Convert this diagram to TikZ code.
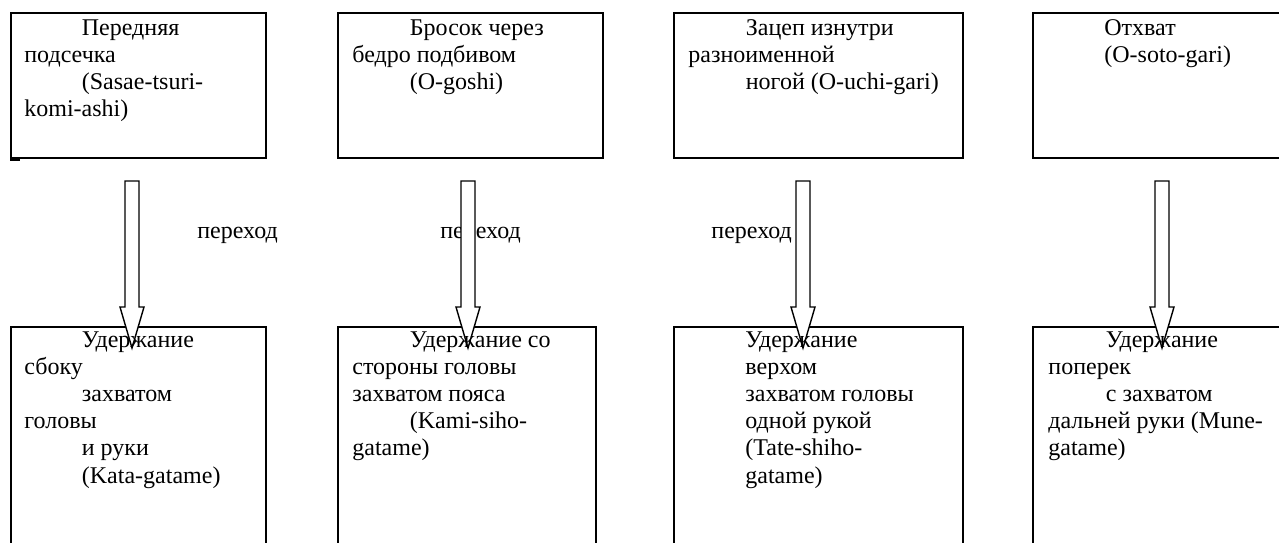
\documentclass[tikz,border=0pt]{standalone}
\usepackage{fontspec}
\setmainfont{Liberation Serif}
\usetikzlibrary{arrows.meta}
\tikzset{frame/.style = {draw, line width=1pt, inner sep=0pt, anchor=north west},
         txt/.style = {inner sep=0pt, anchor=base west,
                       font=\fontsize{12pt}{13.6pt}\selectfont},
         holarrow/.style = {draw, fill=white, line width=0.7pt, line join=miter}}
\newcommand{\ind}{\hspace*{28.75pt}}
\newcommand{\lines}[1]{\begin{tabular}[t]{@{}l@{}}#1\end{tabular}}
% hollow block arrow from #1 (top of shaft) to #2 (tip)
\newcommand{\holarrow}[2]{%
  \draw[holarrow] (#1) ++(-7,0) -- ++(0,126) -- ++(-5,0) -- (#2)
        -- ++(12,-41) -- ++(-5,0) -- ++(0,-126) -- cycle;}

\begin{document}
\begin{tikzpicture}[x=0.5pt, y=-0.5pt]
    \clip (0,0) rectangle (1279,542);
    % throws
    \node[frame, minimum width=127.5pt, minimum height=72.5pt] (t1) at (10,12) {};
    \node[frame, minimum width=132.5pt, minimum height=72.5pt] (t2) at (337,12) {};
    \node[frame, minimum width=144.5pt, minimum height=72.5pt] (t3) at (673,12) {};
    \node[frame, minimum width=134pt, minimum height=72.5pt] (t4) at (1032,12) {};
    \draw[line width=1pt] (t1.south west) ++(0,1) -- ++(10,0);
    % holds
    \node[frame, minimum width=127.5pt, minimum height=117pt] (b1) at (10,326) {};
    \node[frame, minimum width=129pt, minimum height=117pt] (b2) at (337,326) {};
    \node[frame, minimum width=144.5pt, minimum height=117pt] (b3) at (673,326) {};
    \node[frame, minimum width=134pt, minimum height=117pt] (b4) at (1032,326) {};

    \node[txt] (l1) at (197,238) {переход};
    \node[txt] (l2) at (440,238) {переход};
    \node[txt] (l3) at (711,238) {переход};

    \coordinate (s1) at (132,181); \coordinate (e1) at (132,348);
    \coordinate (s2) at (468,181); \coordinate (e2) at (468,348);
    \coordinate (s3) at (803,181); \coordinate (e3) at (803,348);
    \coordinate (s4) at (1162,181); \coordinate (e4) at (1162,348);
    \foreach \i in {1,...,4}
        \holarrow{s\i}{e\i};

    \node[txt] (tt1) at (24,35) {\lines{\ind Передняя\\подсечка\\\ind (Sasae-tsuri-\\komi-ashi)}};
    \node[txt] (tt2) at (352,35) {\lines{\ind Бросок через\\бедро подбивом\\\ind (O-goshi)}};
    \node[txt] (tt3) at (688,35) {\lines{\ind Зацеп изнутри\\разноименной\\\ind ногой (O-uchi-gari)}};
    \node[txt] (tt4) at (1104,35) {\lines{Отхват\\(O-soto-gari)}};

    \node[txt] (bt1) at (24,347) {\lines{\ind Удержание\\сбоку\\\ind захватом\\головы\\\ind и руки\\\ind (Kata-gatame)}};
    \node[txt] (bt2) at (352,347) {\lines{\ind Удержание со\\стороны головы\\захватом пояса\\\ind (Kami-siho-\\gatame)}};
    \node[txt] (bt3) at (745,347) {\lines{Удержание\\верхом\\захватом головы\\одной рукой\\(Tate-shiho-\\gatame)}};
    \node[txt] (bt4) at (1048,347) {\lines{\ind Удержание\\поперек\\\ind с захватом\\дальней руки (Mune-\\gatame)}};
\end{tikzpicture}
\end{document}
